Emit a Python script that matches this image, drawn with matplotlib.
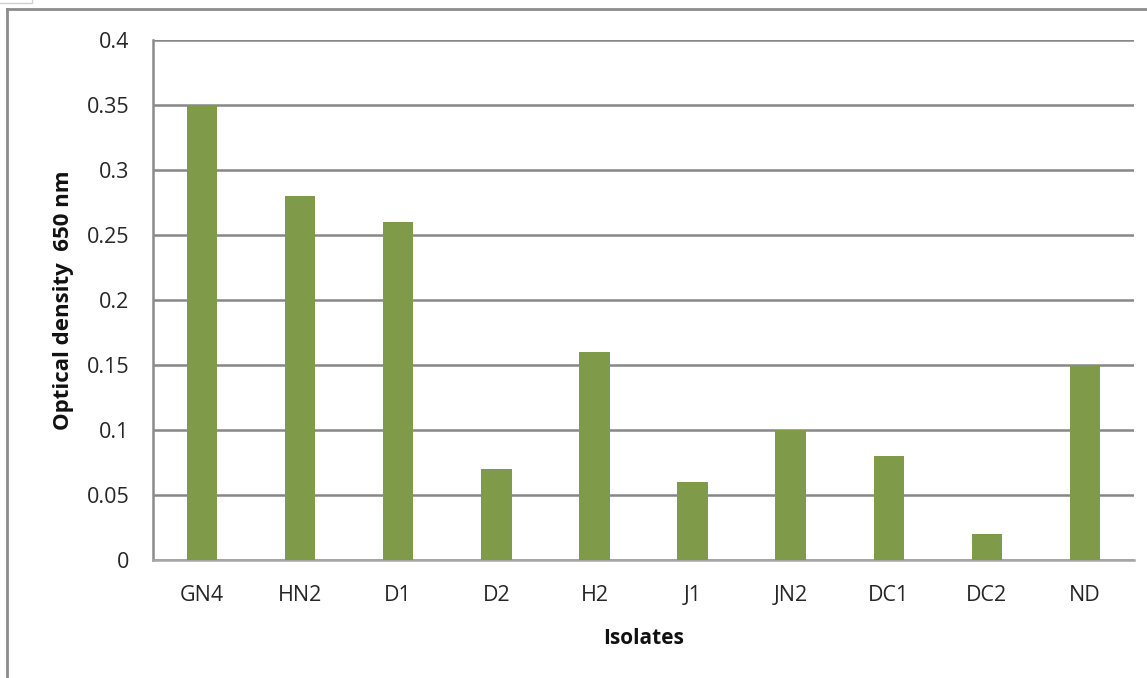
import matplotlib.pyplot as plt
from matplotlib.lines import Line2D

plt.rcParams['font.family'] = ['Open Sans', 'DejaVu Sans']

isolates = ['GN4', 'HN2', 'D1', 'D2', 'H2', 'J1', 'JN2', 'DC1', 'DC2', 'ND']
od_650 = [0.35, 0.28, 0.26, 0.07, 0.16, 0.06, 0.10, 0.08, 0.02, 0.15]
yticks = [0, 0.05, 0.1, 0.15, 0.2, 0.25, 0.3, 0.35, 0.4]
ytick_labels = ['0', '0.05', '0.1', '0.15', '0.2', '0.25', '0.3', '0.35', '0.4']

W, H = 1147, 678
fig = plt.figure(figsize=(W / 100, H / 100), dpi=100)
ax = fig.add_axes([153 / W, 1 - 560 / H, (1134 - 153) / W, (560 - 40) / H])

x = range(len(isolates))
ax.bar(x, od_650, width=0.31, color='#7f9a48', zorder=3)

ax.set_xlim(-0.5, len(isolates) - 0.5)
ax.set_ylim(0, 0.4)
ax.set_yticks(yticks)
ax.set_yticklabels(ytick_labels)
ax.set_xticks(list(x))
ax.set_xticklabels(isolates)
ax.tick_params(axis='both', length=0, labelsize=15.5, colors='#262626')
ax.tick_params(axis='y', pad=17)
ax.tick_params(axis='x', pad=18)

ax.grid(axis='y', color='#878787', linewidth=1.8, zorder=0)
for s in ['top', 'right']:
    ax.spines[s].set_visible(False)
ax.spines['left'].set_color('#8a8a8a')
ax.spines['left'].set_linewidth(1.8)
ax.spines['bottom'].set_color('#a6a6a6')
ax.spines['bottom'].set_linewidth(1.8)

ax.set_xlabel('Isolates', fontsize=15, fontweight='bold', labelpad=16, color='#111111')
ax.set_ylabel('Optical density  650 nm', fontsize=16, fontweight='bold', labelpad=9, color='#111111')

# outer chart frame (left and top edges visible)
fig.add_artist(Line2D([7 / W, 7 / W], [0, 1 - 9 / H], transform=fig.transFigure, color='#8c8c8c', lw=2))
fig.add_artist(Line2D([7 / W, 1], [1 - 9 / H, 1 - 9 / H], transform=fig.transFigure, color='#8c8c8c', lw=2))
fig.add_artist(Line2D([0, 32 / W, 32 / W], [1 - 3 / H, 1 - 3 / H, 1], transform=fig.transFigure, color='#d0d0d0', lw=1))

fig.savefig('out.png', dpi=100)
